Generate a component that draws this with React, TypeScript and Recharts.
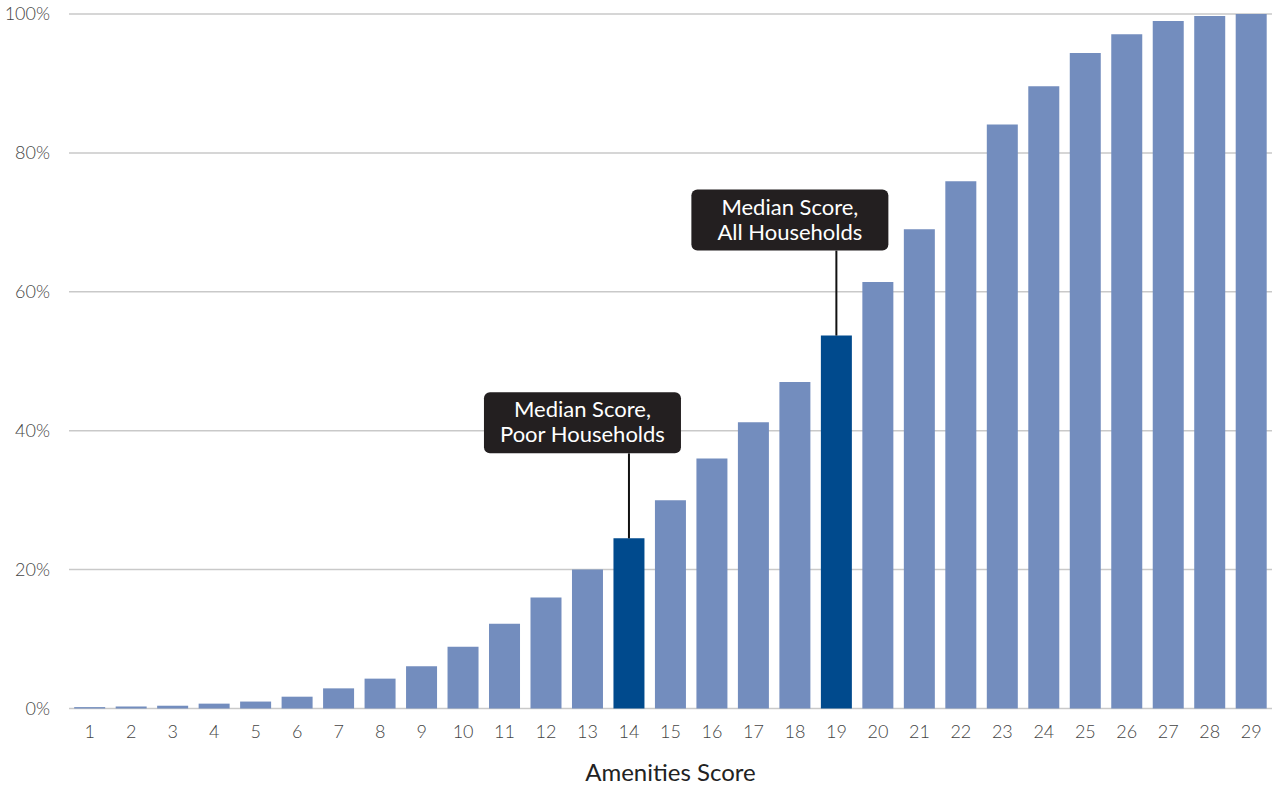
import { BarChart, Bar, Cell, XAxis, YAxis, CartesianGrid, LabelList, Label } from "recharts";

const LIGHT = "#738DBE";
const DARK = "#004A8D";
const BOX = "#231F20";
const FONT = "Lato, 'Open Sans', sans-serif";

const scores = ["1", "2", "3", "4", "5", "6", "7", "8", "9", "10", "11", "12", "13", "14", "15", "16", "17", "18", "19", "20", "21", "22", "23", "24", "25", "26", "27", "28", "29"];
const cumulative = [0.2, 0.3, 0.4, 0.7, 1.0, 1.7, 2.9, 4.3, 6.1, 8.9, 12.2, 16.0, 20.0, 24.5, 30.0, 36.0, 41.2, 47.0, 53.7, 61.4, 69.0, 75.9, 84.1, 89.6, 94.4, 97.1, 99.0, 99.7, 100];
const yTicks = [0, 20, 40, 60, 80, 100];

// the two highlighted medians and their callout text
const medianScores = ["14", "19"];
const medianNotes = [
  ["Median Score,", "Poor Households"],
  ["Median Score,", "All Households"],
];

const data = scores.map((s, i) => {
  const m = medianScores.indexOf(s);
  return { score: s, pct: cumulative[i], note: m >= 0 ? m : -1 };
});

function Callout(props: any) {
  const { x, y, width, value } = props;
  if (value == null || value < 0) return null;
  const lines = medianNotes[value];
  const cx = x + width / 2;
  const boxW = 197;
  const boxH = 61;
  const left = cx - 145;
  const top = y - 146;
  return (
    <g>
      <line x1={cx} x2={cx} y1={top + boxH} y2={y} stroke="#111" strokeWidth={2} />
      <rect x={left} y={top} width={boxW} height={boxH} rx={6} ry={6} fill={BOX} />
      <text x={left + boxW / 2} y={top + 25} textAnchor="middle" fill="#fff" fontSize={22} fontFamily={FONT}>
        {lines[0]}
      </text>
      <text x={left + boxW / 2} y={top + 50} textAnchor="middle" fill="#fff" fontSize={22} fontFamily={FONT}>
        {lines[1]}
      </text>
    </g>
  );
}

export default function App() {
  return (
    <div style={{ position: "absolute", left: 0, top: 0, width: 1272, height: 785, background: "#fff" }}>
      <BarChart
        width={1272}
        height={785}
        data={data}
        margin={{ top: 14, right: 0, left: 0, bottom: 0 }}
        barCategoryGap="12.5%"
      >
        <CartesianGrid vertical={false} stroke="#c9c9c9" strokeWidth={1.5} />
        <XAxis
          dataKey="score"
          axisLine={false}
          tickLine={false}
          tickSize={0}
          tickMargin={17}
          height={76.5}
          interval={0}
          tick={{ fontSize: 18, fill: "#444", fontFamily: FONT, fontWeight: 300 }}
        >
          <Label
            value="Amenities Score"
            position="insideBottom"
            offset={4}
            style={{ fontSize: 24, fill: "#222", fontFamily: FONT }}
          />
        </XAxis>
        <YAxis
          domain={[0, 100]}
          ticks={yTicks}
          width={69}
          axisLine={false}
          tickLine={false}
          tickSize={0}
          tickMargin={19}
          tickFormatter={(v) => `${v}%`}
          tick={{ fontSize: 18, fill: "#444", fontFamily: FONT, fontWeight: 300 }}
        />
        <Bar dataKey="pct" isAnimationActive={false}>
          {data.map((d, i) => (
            <Cell key={i} fill={d.note >= 0 ? DARK : LIGHT} />
          ))}
          <LabelList dataKey="note" content={Callout} />
        </Bar>
      </BarChart>
    </div>
  );
}
